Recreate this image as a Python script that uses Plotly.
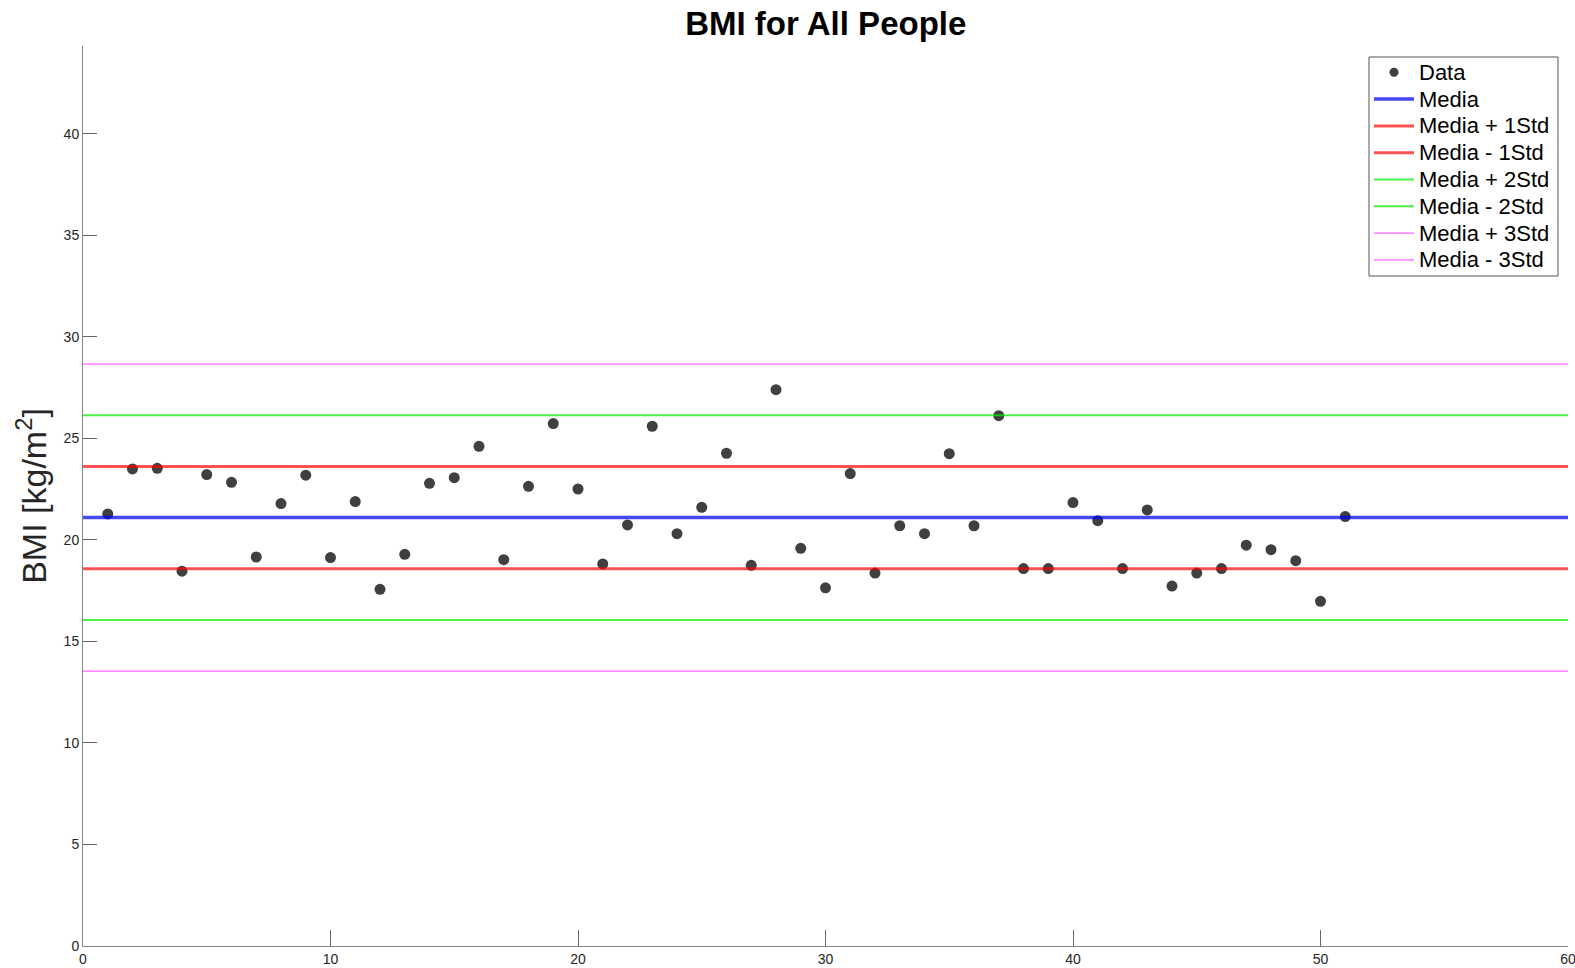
import plotly.graph_objects as go

# Body-mass index of each person (index 1..51)
person_index = list(range(1, 52))
bmi_values = [
    21.28, 23.50, 23.53, 18.46, 23.22, 22.84, 19.16, 21.79, 23.19, 19.13,
    21.89, 17.57, 19.29, 22.79, 23.07, 24.61, 19.03, 22.64, 25.73, 22.51,
    18.82, 20.74, 25.60, 20.31, 21.61, 24.27, 18.75, 27.40, 19.59, 17.64,
    23.27, 18.37, 20.70, 20.31, 24.25, 20.70, 26.12, 18.59, 18.59, 21.84,
    20.95, 18.59, 21.48, 17.73, 18.37, 18.59, 19.74, 19.52, 18.98, 16.98,
    21.15,
]

# Summary statistics shown as reference lines
bmi_mean = 21.10
bmi_std = 2.52

x_span = [0, 60]
y_span = [0, 44.33]

font_family = "Liberation Sans, Arial, Helvetica, sans-serif"

W, H = 1575, 968
M_L, M_R, M_T, M_B = 83, 7, 46, 22

fig = go.Figure()

fig.add_trace(go.Scatter(
    x=person_index, y=bmi_values, mode="markers", name="Data",
    marker=dict(size=11, color="#404040", line=dict(width=0)),
))

# (label, multiple of std, colour, width)
ref_lines = [
    ("Media", 0, "rgba(0,0,255,0.72)", 3.5),
    ("Media + 1Std", 1, "rgba(255,0,0,0.68)", 3),
    ("Media - 1Std", -1, "rgba(255,0,0,0.68)", 3),
    ("Media + 2Std", 2, "rgba(0,240,0,0.72)", 2),
    ("Media - 2Std", -2, "rgba(0,240,0,0.72)", 2),
    ("Media + 3Std", 3, "rgba(255,0,255,0.62)", 1.2),
    ("Media - 3Std", -3, "rgba(255,0,255,0.62)", 1.2),
]
for label, k, color, width in ref_lines:
    level = bmi_mean + k * bmi_std
    fig.add_trace(go.Scatter(
        x=x_span, y=[level, level], mode="lines", name=label,
        line=dict(color=color, width=width), showlegend=False,
    ))

# Boxed legend laid out in pixels, converted to paper coordinates
plot_w = W - M_L - M_R
plot_h = H - M_T - M_B


def px_x(px):
    return (px - M_L) / plot_w


def px_y(py):
    return (H - M_B - py) / plot_h


box_left, box_right, box_top, box_bottom = 1369, 1558, 57, 276
row_top, row_step = 72.3, 26.8
sym_left, sym_right, text_left = 1374, 1414, 1417
dot_x = 1394

shapes = [dict(
    type="rect", xref="paper", yref="paper",
    x0=px_x(box_left), x1=px_x(box_right),
    y0=px_y(box_bottom), y1=px_y(box_top),
    line=dict(color="#555555", width=1), fillcolor="white", layer="above",
)]
annotations = []
legend_rows = [("Data", None, None)] + [(lbl, c, w) for lbl, _, c, w in ref_lines]
for i, (label, color, width) in enumerate(legend_rows):
    yc = px_y(row_top + i * row_step)
    if color is None:
        shapes.append(dict(
            type="circle", xref="paper", yref="paper",
            xsizemode="pixel", ysizemode="pixel",
            xanchor=px_x(dot_x), yanchor=yc,
            x0=-4.5, x1=4.5, y0=-4.5, y1=4.5,
            fillcolor="#404040", line=dict(width=0), layer="above",
        ))
    else:
        shapes.append(dict(
            type="line", xref="paper", yref="paper",
            x0=px_x(sym_left), x1=px_x(sym_right), y0=yc, y1=yc,
            line=dict(color=color, width=width), layer="above",
        ))
    annotations.append(dict(
        xref="paper", yref="paper", x=px_x(text_left), y=yc,
        xanchor="left", yanchor="middle", showarrow=False, text=label,
        font=dict(family=font_family, size=22, color="#000000"),
    ))

axis_common = dict(
    showgrid=False, zeroline=False, showline=True,
    linecolor="#888888", linewidth=1,
    ticks="inside", tickcolor="#666666", tickwidth=1,
    tickfont=dict(family=font_family, size=14, color="#262626"),
    automargin=False, ticklabeloverflow="allow",
)

fig.update_layout(
    width=W, height=H,
    margin=dict(l=M_L, r=M_R, t=M_T, b=M_B),
    paper_bgcolor="white", plot_bgcolor="white",
    font=dict(family=font_family, color="#000000"),
    title=dict(
        text="<b>BMI for All People</b>",
        x=0.5243, xanchor="center",
        y=1 - 23 / H, yanchor="middle", yref="container",
        font=dict(family=font_family, size=33, color="#000000"),
    ),
    xaxis=dict(range=x_span, tickvals=[0, 10, 20, 30, 40, 50, 60],
               ticklen=16, **axis_common),
    yaxis=dict(
        range=y_span, dtick=5, ticklen=14,
        title=dict(text="BMI [kg/m<sup>2</sup>]", standoff=6,
                   font=dict(family=font_family, size=34, color="#262626")),
        **axis_common,
    ),
    shapes=shapes,
    annotations=annotations,
    showlegend=False,
)

fig.write_html("out.html")
